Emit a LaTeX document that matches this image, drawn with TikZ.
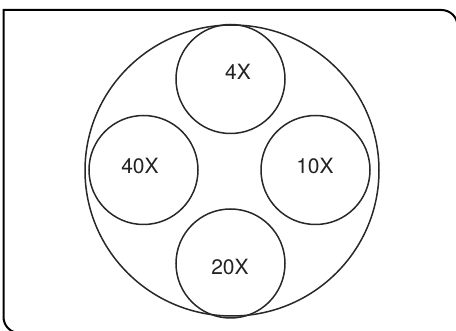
\documentclass[tikz,border=0pt]{standalone}
\usepackage{fontspec}
\setmainfont{TeX Gyre Heros}
\usepackage{tikz}
\usetikzlibrary{shapes.geometric}
\definecolor{rimgray}{RGB}{40,40,40}
\definecolor{labelgray}{RGB}{35,35,35}

\begin{document}
\begin{tikzpicture}[
  x=1pt, y=-1pt,
  lens/.style={circle, draw=rimgray, line width=1.5pt, minimum size=109pt, inner sep=0pt},
  mag/.style={font=\fontsize{21}{21}\selectfont, text=labelgray, inner sep=0pt},
  frame/.style={draw=black, line width=2pt}
]
\useasboundingbox (0,0) rectangle (456,331);
\clip (0,0) rectangle (456,331);

% outer frame, square only at top left
\draw[frame] (457.5,345) [rounded corners=16pt] -- (457.5,10) [sharp corners] -- (3.5,10)
  [rounded corners=16pt] -- (3.5,333) -- (470,333);

% turret
\node[draw=rimgray, line width=1.5pt, ellipse, minimum width=294pt, minimum height=291pt, inner sep=0pt] (turret) at (232,170.5) {};

\node[lens] (c4)  at (230.5,79)    {};
\node[lens] (c40) at (143.5,170)   {};
\node[lens] (c10) at (315.5,170)   {};
\node[lens] (c20) at (230.5,263.5) {};

\node[mag] (t4)  at (238,72)  {4X};
\node[mag] (t40) at (140,166) {40X};
\node[mag] (t10) at (315,166) {10X};
\node[mag] (t20) at (230,267) {20X};

\end{tikzpicture}
\end{document}
